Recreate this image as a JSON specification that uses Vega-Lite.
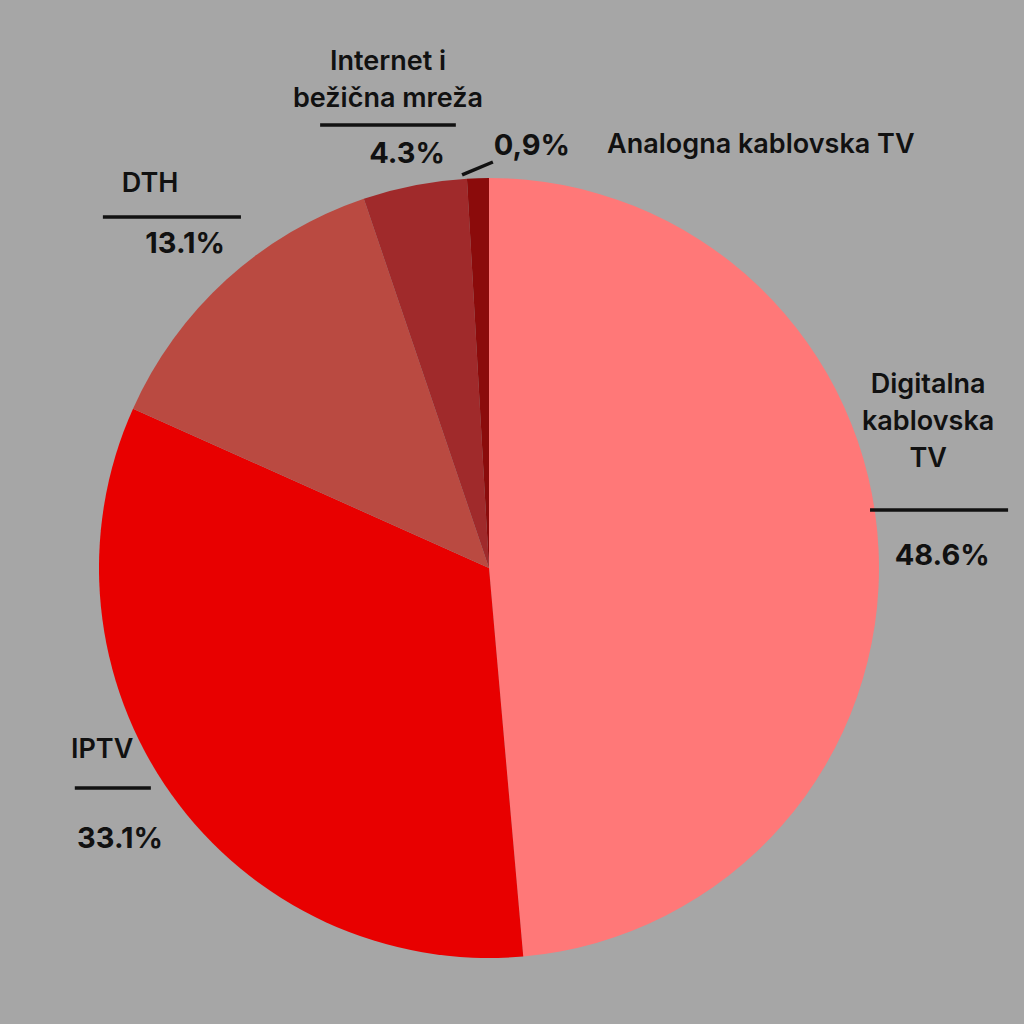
{
  "$schema": "https://vega.github.io/schema/vega-lite/v6.json",
  "width": 1024,
  "height": 1024,
  "padding": 0,
  "autosize": {"type": "none"},
  "background": "#A6A6A6",
  "config": {"view": {"stroke": null}},
  "datasets": {
    "shares": [
      {"category": "Digitalna kablovska TV", "share": 48.6, "idx": 1},
      {"category": "IPTV", "share": 33.1, "idx": 2},
      {"category": "DTH", "share": 13.1, "idx": 3},
      {"category": "Internet i bežična mreža", "share": 4.3, "idx": 4},
      {"category": "Analogna kablovska TV", "share": 0.9, "idx": 5}
    ],
    "names": [
      {"name": "Digitalna\nkablovska\nTV", "lx": 112.6, "ly": 44.9},
      {"name": "IPTV", "lx": -99.2, "ly": -48.7},
      {"name": "DTH", "lx": -86.9, "ly": 96.4},
      {"name": "Internet i\nbežična mreža", "lx": -25.9, "ly": 127.7},
      {"name": "Analogna kablovska TV", "lx": 69.7, "ly": 106.4}
    ],
    "percents": [
      {"label": "48.6%", "lx": 116.2, "ly": 0.8},
      {"label": "33.1%", "lx": -94.6, "ly": -71.8},
      {"label": "13.1%", "lx": -77.9, "ly": 80.8},
      {"label": "4.3%", "lx": -21.0, "ly": 103.8},
      {"label": "0,9%", "lx": 11.0, "ly": 105.9}
    ],
    "rules": [
      {"x1": 97.7, "x2": 133.1, "y1": 14.9, "y2": 14.9},
      {"x1": -106.2, "x2": -86.7, "y1": -56.4, "y2": -56.4},
      {"x1": -99.0, "x2": -63.6, "y1": 90.0, "y2": 90.0},
      {"x1": -43.3, "x2": -8.5, "y1": 113.6, "y2": 113.6},
      {"x1": -6.9, "x2": 1.0, "y1": 100.8, "y2": 104.1}
    ]
  },
  "layer": [
    {
      "data": {"name": "shares"},
      "mark": {"type": "arc", "radius": 390},
      "encoding": {
        "theta": {"field": "share", "type": "quantitative", "stack": true},
        "order": {"field": "idx", "type": "ordinal"},
        "color": {
          "field": "category",
          "type": "nominal",
          "scale": {
            "domain": ["Digitalna kablovska TV", "IPTV", "DTH", "Internet i bežična mreža", "Analogna kablovska TV"],
            "range": ["#FF7878", "#E80000", "#BA4A41", "#A02A2B", "#8B0B0B"]
          },
          "legend": null
        },
        "x": {"datum": 0, "type": "quantitative", "scale": {"domain": [-125.38, 137.18]}, "axis": null},
        "y": {"datum": 0, "type": "quantitative", "scale": {"domain": [-116.92, 145.64]}, "axis": null}
      }
    },
    {
      "data": {"name": "rules"},
      "mark": {"type": "rule", "strokeWidth": 3.5, "color": "#111111"},
      "encoding": {
        "x": {"field": "x1", "type": "quantitative", "scale": {"domain": [-125.38, 137.18]}, "axis": null},
        "x2": {"field": "x2"},
        "y": {"field": "y1", "type": "quantitative", "scale": {"domain": [-116.92, 145.64]}, "axis": null},
        "y2": {"field": "y2"}
      }
    },
    {
      "data": {"name": "names"},
      "mark": {"type": "text", "font": "Inter", "fontWeight": 600, "fontSize": 27, "color": "#111111", "align": "center", "baseline": "alphabetic", "lineBreak": "\n", "lineHeight": 37},
      "encoding": {
        "text": {"field": "name"},
        "x": {"field": "lx", "type": "quantitative", "scale": {"domain": [-125.38, 137.18]}, "axis": null},
        "y": {"field": "ly", "type": "quantitative", "scale": {"domain": [-116.92, 145.64]}, "axis": null}
      }
    },
    {
      "data": {"name": "percents"},
      "mark": {"type": "text", "font": "Inter", "fontWeight": "bold", "fontSize": 29, "color": "#111111", "align": "center", "baseline": "alphabetic"},
      "encoding": {
        "text": {"field": "label"},
        "x": {"field": "lx", "type": "quantitative", "scale": {"domain": [-125.38, 137.18]}, "axis": null},
        "y": {"field": "ly", "type": "quantitative", "scale": {"domain": [-116.92, 145.64]}, "axis": null}
      }
    }
  ]
}
